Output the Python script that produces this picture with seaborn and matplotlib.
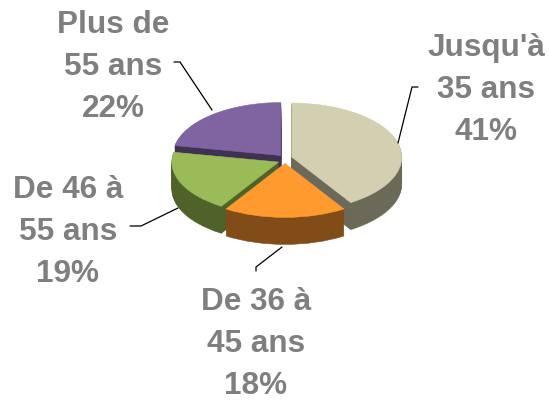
import seaborn as sns
import matplotlib.pyplot as plt
import numpy as np

# Data
labels = ["Jusqu'à\n35 ans\n41%", "De 36 à\n45 ans\n18%", "De 46 à\n55 ans\n19%", "Plus de\n55 ans\n22%"]
values = [41, 18, 19, 22]
top_colors = ['#d3cfb1', '#ff9a2e', '#9bbb59', '#8064a2']
side_colors = ['#6b6958', '#824c18', '#4f6229', '#3f3152']
draw_order = [3, 0, 2, 1]  # back slices first

sns.set_theme(style='white')
plt.rcParams['font.family'] = ['Liberation Sans', 'DejaVu Sans']

W, H = 549, 400
fig = plt.figure(figsize=(W / 100, H / 100), dpi=100)
ax = fig.add_axes([0, 0, 1, 1])

# pie centre and radii in pixels, to squash the circle into a tilted disc
cx, cy, rx, ry = 285, 158, 110, 54
depth = 27 / ry
explode = [0.064, 0.1, 0.064, 0.06]
radii = [1, 1, 0.97, 0.98]  # back slices look a little smaller
drop = [0, 0, 0.05, 0]  # green sits lower, shows more of the purple wall

# side walls are stacked copies of the pie, top face last
for d in np.linspace(depth, 0, 28):
    colors = top_colors if d == 0 else side_colors
    wedges, _ = ax.pie(values, explode=explode, colors=colors, startangle=90,
                       counterclock=False, center=(0, -d), radius=1)
    for i, w in enumerate(wedges):
        w.set_radius(radii[i])
        w.set_center((w.center[0], w.center[1] - drop[i]))
        w.set_zorder(draw_order.index(i) + 1 + (0.5 if d == 0 else 0.1))
        w.set_edgecolor(colors[i])
        w.set_linewidth(0.4)

ax.set_aspect('auto')
ax.set_xlim(-cx / rx, (W - cx) / rx)
ax.set_ylim(-(H - cy) / ry, cy / ry)
ax.axis('off')


def px(x, y):
    return x / W, 1 - y / H


# leader lines, in pixels
leaders = [
    [(398, 143), (412, 87), (418, 87)],
    [(282, 247), (256, 267), (256, 271)],
    [(178, 208), (141, 226), (130, 226)],
    [(212, 110), (180, 62), (174, 62)],
]
for line in leaders:
    xs, ys = zip(*[px(*p) for p in line])
    ax.plot(xs, ys, transform=fig.transFigure, color='black', lw=0.9, zorder=6, clip_on=False)

label_pos = [(486, 90), (256, 344), (68, 232), (113, 67)]
for text, pos in zip(labels, label_pos):
    x, y = px(*pos)
    fig.text(x, y, text, ha='center', va='center', color='#7f7f7f',
             fontsize=22.7, fontweight='bold', linespacing=1.53)

fig.savefig('out.png', dpi=100)
